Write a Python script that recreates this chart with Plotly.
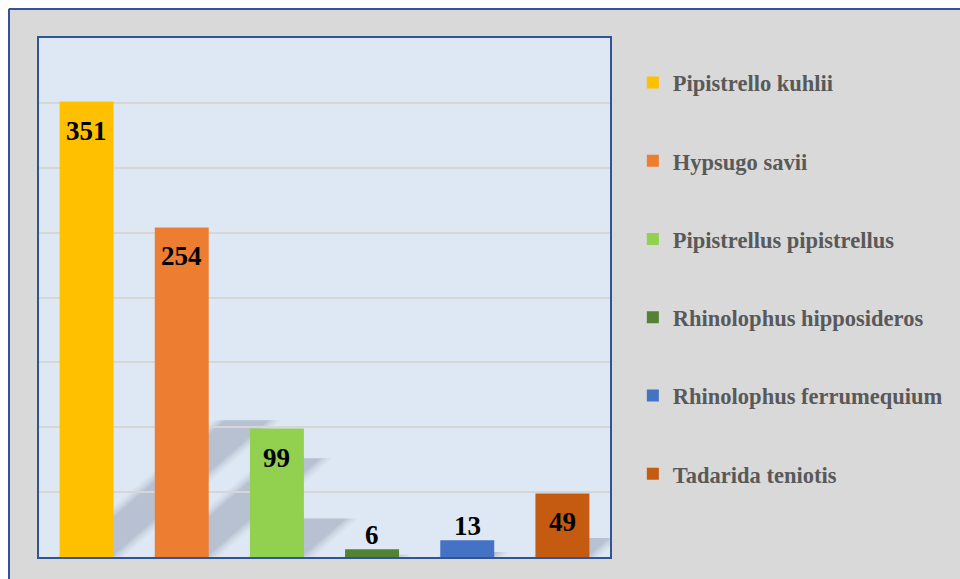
import plotly.graph_objects as go

species = [
    "Pipistrello kuhlii",
    "Hypsugo savii",
    "Pipistrellus pipistrellus",
    "Rhinolophus hipposideros",
    "Rhinolophus ferrumequium",
    "Tadarida teniotis",
]
counts = [351, 254, 99, 6, 13, 49]
colors = ["#ffc000", "#ed7d31", "#92d050", "#548235", "#4472c4", "#c55a11"]

SERIF = "Liberation Serif, Times New Roman, serif"
W, H = 960, 579
ML, MR, MT, MB = 39, 350, 38, 22
PW, PH = W - ML - MR, H - MT - MB
Y_MAX = 400
BAR_W = 0.567


def px_x(x):
    return (x - ML) / PW


def px_y(y):
    return (H - MB - y) / PH


fig = go.Figure()
for name, val, col in zip(species, counts, colors):
    fig.add_trace(
        go.Bar(
            x=[name],
            y=[val],
            name=name,
            legendgroup=name,
            marker=dict(color=col, line=dict(width=0)),
            width=BAR_W,
            hoverinfo="name+y",
        )
    )

# soft diagonal shadows behind the bars (derived from the bar values)
px_per_unit = PH / Y_MAX
px_per_cat = PW / len(species)
shapes = []
for i, val in enumerate(counts):
    dy_px = val * px_per_unit * 0.3
    dx = dy_px * 1.15 / px_per_cat
    dy = dy_px / px_per_unit
    for spread, alpha in [(0.12, 0.03), (0.09, 0.04), (0.06, 0.05),
                          (0.03, 0.06), (0.0, 0.07)]:
        x0 = i - BAR_W / 2 + 0.08 - spread
        x1 = i + BAR_W / 2 - 0.02 + spread
        path = (
            f"M {x0},0 L {x1},0 L {x1 + dx},{dy} L {x0 + dx},{dy} Z"
        )
        shapes.append(
            dict(
                type="path", path=path, xref="x", yref="y", layer="below",
                fillcolor=f"rgba(55,70,95,{alpha})", line=dict(width=0),
            )
        )

# white page margin and the blue frame of the grey chart area
shapes += [
    dict(type="rect", xref="paper", yref="paper", layer="above",
         x0=px_x(-5), x1=px_x(W + 5), y0=px_y(8), y1=px_y(-5),
         fillcolor="#ffffff", line=dict(width=0)),
    dict(type="rect", xref="paper", yref="paper", layer="above",
         x0=px_x(-5), x1=px_x(8), y0=px_y(H + 5), y1=px_y(-5),
         fillcolor="#ffffff", line=dict(width=0)),
    dict(type="line", xref="paper", yref="paper", layer="above",
         x0=px_x(9), x1=px_x(W + 5), y0=px_y(9), y1=px_y(9),
         line=dict(color="#2f5597", width=2)),
    dict(type="line", xref="paper", yref="paper", layer="above",
         x0=px_x(9), x1=px_x(9), y0=px_y(9), y1=px_y(H + 5),
         line=dict(color="#2f5597", width=2)),
]

annotations = []
for name, val in zip(species, counts):
    inside = val > 30
    annotations.append(
        dict(
            x=name, y=val, xref="x", yref="y", text=f"<b>{val}</b>",
            showarrow=False, yanchor="middle", yshift=-29 if inside else 14,
            font=dict(family=SERIF, size=27, color="#000000"),
        )
    )

fig.update_layout(
    width=W,
    height=H,
    margin=dict(l=ML, r=MR, t=MT, b=MB),
    paper_bgcolor="#d9d9d9",
    plot_bgcolor="#dee8f4",
    barmode="overlay",
    shapes=shapes,
    annotations=annotations,
    showlegend=True,
    legend=dict(
        x=1.040, y=0.955, xanchor="left", yanchor="top",
        bgcolor="rgba(0,0,0,0)",
        font=dict(family=SERIF, size=22.5, color="#595959", weight="bold"),
        tracegroupgap=46,
        itemclick=False,
    ),
)
fig.update_xaxes(
    showticklabels=False, showgrid=False, zeroline=False,
    showline=True, mirror=True, linecolor="#2f5597", linewidth=2,
    range=[-0.5, len(species) - 0.5], ticks="",
)
fig.update_yaxes(
    range=[0, Y_MAX], dtick=50, showticklabels=False, zeroline=False,
    showgrid=True, gridcolor="#d6d6d6", gridwidth=2,
    showline=True, mirror=True, linecolor="#2f5597", linewidth=2, ticks="",
)

fig.write_html(
    "out.html",
    config={"displayModeBar": False},
    post_script="document.body.style.margin='0';document.body.style.overflow='hidden';",
)
